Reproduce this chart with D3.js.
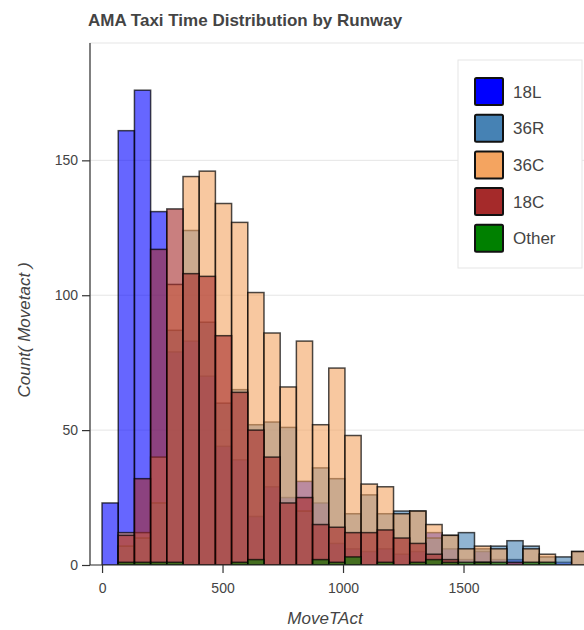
<!DOCTYPE html>
<html>
<head>
<meta charset="utf-8">
<script src="https://cdn.jsdelivr.net/npm/d3@7"></script>
<style>
  body { margin: 0; background: #fff; }
  text { font-family: "Liberation Sans", Arial, Helvetica, sans-serif; fill: #444; }
</style>
</head>
<body>
<script>
// histogram bins (seconds), same edges for every runway
var binStart = 0, binWidth = 67.2;

var runways = ["18L", "36R", "36C", "18C", "Other"];
var runwayColors = ["#0000ff", "#4682b4", "#f4a460", "#a52a2a", "#008000"];

// counts per bin
var counts18L   = [23, 161, 176, 131, 79, 83, 70, 44, 39, 18, 29, 25, 31, 23, 8, 6, 5, 6, 4, 5, 12, 6, 2, 5, 2, 2, 1, 1, 1, 0];
var counts36R   = [0, 7, 10, 23, 87, 124, 90, 60, 65, 52, 53, 51, 20, 36, 32, 19, 26, 19, 20, 20, 10, 11, 12, 6, 7, 9, 7, 3, 3, 5];
var counts36C   = [0, 12, 12, 40, 104, 144, 146, 134, 127, 101, 86, 66, 83, 52, 73, 48, 30, 29, 19, 20, 15, 11, 6, 7, 6, 0, 6, 4, 0, 5];
var counts18C   = [0, 11, 32, 117, 132, 108, 107, 85, 64, 50, 40, 23, 25, 15, 14, 12, 12, 13, 10, 8, 4, 2, 0, 1, 0, 1, 0, 0, 0, 0];
var countsOther = [0, 1, 1, 1, 1, 0, 0, 0, 1, 2, 0, 0, 0, 2, 1, 3, 0, 1, 0, 1, 2, 1, 1, 1, 1, 0, 1, 1, 0, 0];

var yTicks = [0, 50, 100, 150];
var xTicks = [0, 500, 1000, 1500];

var allCounts = [counts18L, counts36R, counts36C, counts18C, countsOther];

var width = 584, height = 630;
var plot = {left: 90, top: 43, right: 584, bottom: 565};

var svg = d3.select("body").append("svg")
  .attr("width", width)
  .attr("height", height);

var x = d3.scaleLinear().domain([-50, 2000]).range([plot.left, plot.right]);
var y = d3.scaleLinear().domain([0, 193.5]).range([plot.bottom, plot.top]);

// title
svg.append("text")
  .attr("x", 88)
  .attr("y", 26)
  .style("font-size", "17px")
  .style("font-weight", "bold")
  .text("AMA Taxi Time Distribution by Runway");

// plot outline + horizontal grid
svg.append("rect")
  .attr("x", plot.left).attr("y", plot.top)
  .attr("width", plot.right - plot.left + 10).attr("height", plot.bottom - plot.top)
  .attr("fill", "none").attr("stroke", "#e5e5e5");

svg.selectAll(".grid")
  .data(yTicks.filter(function (d) { return d > 0; }))
  .enter().append("line")
  .attr("class", "grid")
  .attr("x1", plot.left).attr("x2", plot.right)
  .attr("y1", function (d) { return y(d); })
  .attr("y2", function (d) { return y(d); })
  .attr("stroke", "#e5e5e5");

svg.append("clipPath").attr("id", "clip")
  .append("rect")
  .attr("x", plot.left).attr("y", plot.top)
  .attr("width", plot.right - plot.left).attr("height", plot.bottom - plot.top);

// bars, one layer per runway, drawn in legend order
var bars = svg.append("g").attr("clip-path", "url(#clip)");
allCounts.forEach(function (vals, k) {
  bars.append("g")
    .selectAll("rect")
    .data(vals.map(function (v, i) { return {i: i, v: v}; }).filter(function (d) { return d.v > 0; }))
    .enter().append("rect")
    .attr("x", function (d) { return x(binStart + d.i * binWidth); })
    .attr("width", function (d) { return x(binStart + (d.i + 1) * binWidth) - x(binStart + d.i * binWidth); })
    .attr("y", function (d) { return y(d.v); })
    .attr("height", function (d) { return y(0) - y(d.v); })
    .attr("fill", runwayColors[k])
    .attr("fill-opacity", 0.6)
    .attr("stroke", "#000")
    .attr("stroke-opacity", 0.7)
    .attr("stroke-width", 1.5);
});

// y axis
var yAxis = svg.append("g")
  .attr("transform", "translate(" + plot.left + ",0)");
yAxis.call(d3.axisLeft(y).tickValues(d3.range(0, 191, 10)).tickSize(5).tickFormat(""));
yAxis.call(d3.axisLeft(y).tickValues(yTicks).tickSize(8).tickPadding(4).tickFormat(d3.format("d")));
yAxis.selectAll("path.domain").attr("stroke", "#333").attr("stroke-width", 1.2)
  .attr("d", "M0," + plot.top + "V" + plot.bottom);
yAxis.selectAll(".tick line").attr("stroke", "#333").attr("stroke-width", 1.2);
yAxis.selectAll(".tick text").style("font-size", "14px").style("font-family", null).attr("fill", "#444");

// x axis
var xAxis = svg.append("g")
  .attr("transform", "translate(0," + plot.bottom + ")");
xAxis.call(d3.axisBottom(x).tickValues(d3.range(0, 2001, 100)).tickSize(5).tickFormat(""));
xAxis.call(d3.axisBottom(x).tickValues(xTicks).tickSize(8).tickPadding(10).tickFormat(d3.format("d")));
xAxis.selectAll("path.domain").attr("stroke", "#333").attr("stroke-width", 1.2)
  .attr("d", "M" + plot.left + ",0H" + plot.right);
xAxis.selectAll(".tick line").attr("stroke", "#333").attr("stroke-width", 1.2);
xAxis.selectAll(".tick text").style("font-size", "14px").style("font-family", null).attr("fill", "#444");

// axis labels
svg.append("text")
  .attr("x", 325)
  .attr("y", 624)
  .attr("text-anchor", "middle")
  .style("font-size", "17px")
  .style("font-style", "italic")
  .text("MoveTAct");

svg.append("text")
  .attr("transform", "translate(30,330) rotate(-90)")
  .attr("text-anchor", "middle")
  .style("font-size", "17px")
  .style("font-style", "italic")
  .text("Count( Movetact )");

// legend
var legend = svg.append("g");
legend.append("rect")
  .attr("x", 458).attr("y", 60)
  .attr("width", 124).attr("height", 208)
  .attr("fill", "#fff").attr("stroke", "#e5e5e5");

var items = legend.selectAll(".item")
  .data(runways)
  .enter().append("g")
  .attr("class", "item")
  .attr("transform", function (d, i) { return "translate(475," + (78 + i * 36.7) + ")"; });

items.append("rect")
  .attr("width", 28).attr("height", 27)
  .attr("rx", 1.5)
  .attr("fill", function (d, i) { return runwayColors[i]; })
  .attr("stroke", "#111").attr("stroke-width", 2);

items.append("text")
  .attr("x", 38).attr("y", 14)
  .attr("dominant-baseline", "central")
  .style("font-size", "17px")
  .text(function (d) { return d; });
</script>
</body>
</html>
